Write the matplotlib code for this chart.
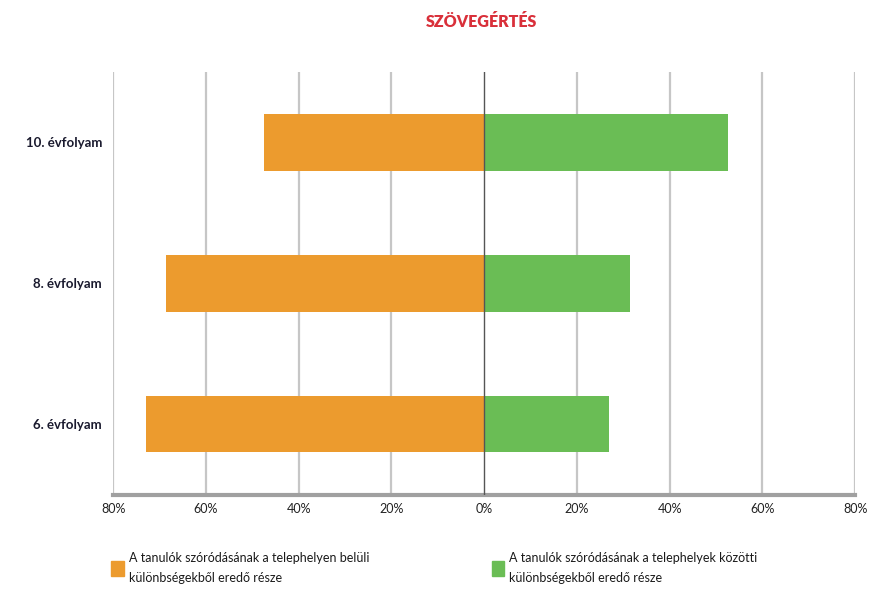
import matplotlib.pyplot as plt
from matplotlib.patches import Patch

plt.rcParams['font.family'] = ['Lato', 'DejaVu Sans']

grades = ['6. évfolyam', '8. évfolyam', '10. évfolyam']
within = [73.0, 68.5, 47.4]    # telephelyen belüli (balra)
between = [27.0, 31.5, 52.6]   # telephelyek közötti (jobbra)
ticks = [-80, -60, -40, -20, 0, 20, 40, 60, 80]
tick_labels = ['80%', '60%', '40%', '20%', '0%', '20%', '40%', '60%', '80%']
legend_labels = ['A tanulók szóródásának a telephelyen belüli\nkülönbségekből eredő része',
                 'A tanulók szóródásának a telephelyek közötti\nkülönbségekből eredő része']

orange = '#EC9B2E'
green = '#6ABD55'

fig = plt.figure(figsize=(8.7, 5.89), dpi=100)
ax = fig.add_axes([0.13, 0.16, 0.853, 0.718])

y = range(len(grades))
ax.barh(y, [-v for v in within], height=0.4, color=orange, zorder=3)
ax.barh(y, between, height=0.4, color=green, zorder=3)

ax.set_xlim(-80, 80)
ax.set_ylim(-0.5, 2.5)
ax.set_xticks(ticks)
ax.set_xticklabels(tick_labels, fontsize=9, color='#222222')
ax.set_yticks(list(y))
ax.set_yticklabels(grades, fontsize=9.5, color='#1a1a2e', fontweight='bold')
ax.tick_params(length=0, pad=8)
ax.tick_params(axis='x', pad=6)

for t in ticks:
    if t == 0:
        ax.axvline(t, color='#555555', lw=1.0, zorder=4)
    else:
        ax.axvline(t, color='#c6c6c6', lw=1.6, zorder=1)

for s in ['top', 'right', 'left']:
    ax.spines[s].set_visible(False)
ax.spines['bottom'].set_color('#a0a0a0')
ax.spines['bottom'].set_linewidth(3)

fig.text(0.553, 0.962, 'SZÖVEGÉRTÉS', ha='center', va='center', fontsize=11.5,
         fontweight='heavy', color='#d9303a')

handles = [Patch(color=orange), Patch(color=green)]
leg = fig.legend(handles, legend_labels, ncol=2, loc='lower left',
                 bbox_to_anchor=(0.115, -0.01), frameon=False, fontsize=9,
                 handlelength=1.0, handleheight=1.4, handletextpad=0.4,
                 columnspacing=9.8, labelspacing=0.2)
for txt in leg.get_texts():
    txt.set_linespacing(1.8)
    txt.set_color('#1a1a1a')

fig.savefig('out.png', dpi=100)
